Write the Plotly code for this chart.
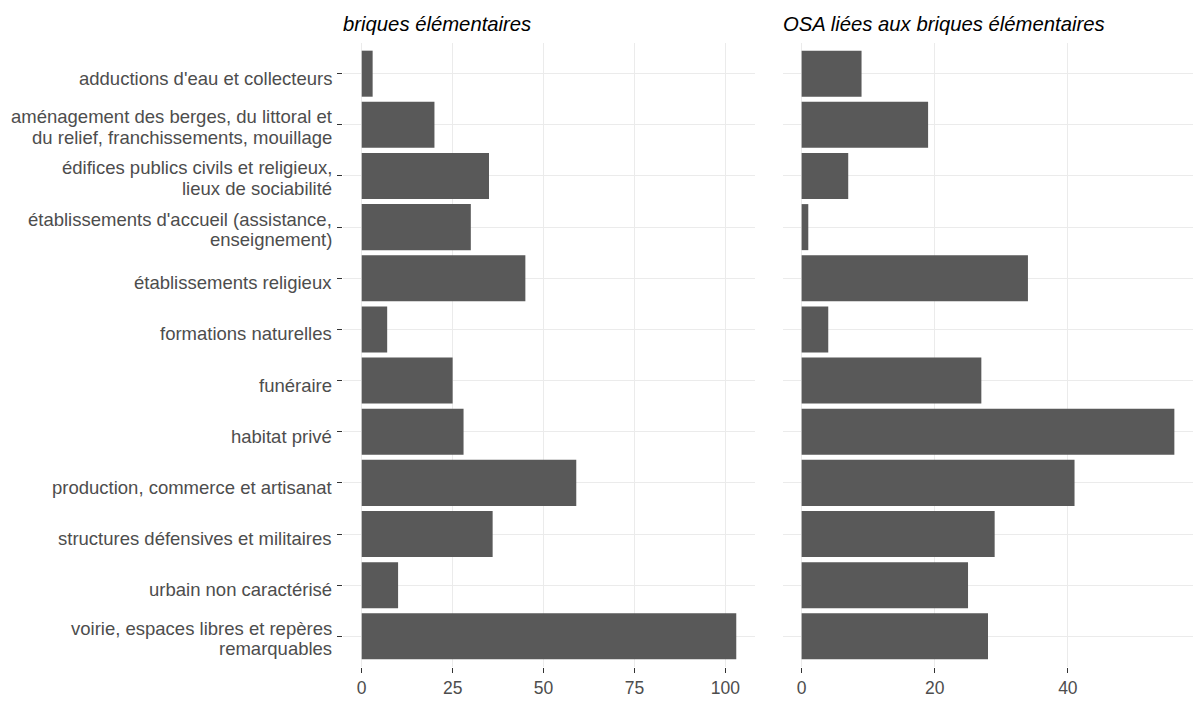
import plotly.graph_objects as go

categories = [
    "adductions d'eau et collecteurs",
    "aménagement des berges, du littoral et\ndu relief, franchissements, mouillage",
    "édifices publics civils et religieux,\nlieux de sociabilité",
    "établissements d'accueil (assistance,\nenseignement)",
    "établissements religieux",
    "formations naturelles",
    "funéraire",
    "habitat privé",
    "production, commerce et artisanat",
    "structures défensives et militaires",
    "urbain non caractérisé",
    "voirie, espaces libres et repères\nremarquables",
]
briques = [3, 20, 35, 30, 45, 7, 25, 28, 59, 36, 10, 103]
osa = [9, 19, 7, 1, 34, 4, 27, 56, 41, 29, 25, 28]
titles = ["briques élémentaires", "OSA liées aux briques élémentaires"]
ticks_left = [0, 25, 50, 75, 100]
ticks_right = [0, 20, 40]

W, H = 1193, 701
ml, mr, mt, mb = 343, 0, 43, 34
pw = W - ml - mr
x1_end = (755 - ml) / pw
x2_start = (783 - ml) / pw

bar_style = dict(marker=dict(color="#595959", line=dict(width=0)), width=0.9,
                 orientation="h", showlegend=False)

fig = go.Figure()
fig.add_trace(go.Bar(x=briques, y=categories, xaxis="x", yaxis="y", **bar_style))
fig.add_trace(go.Bar(x=osa, y=categories, xaxis="x2", yaxis="y2", **bar_style))

font_family = "Liberation Sans, Arial, sans-serif"
tick_size = 18.5
tick_font = dict(family=font_family, size=tick_size, color="#4D4D4D")
xtick_font = dict(family=font_family, size=17.5, color="#4D4D4D")
grid = "#EBEBEB"

axis_common = dict(showgrid=True, gridcolor=grid, gridwidth=1, zeroline=False, showline=False)
bmax = max(briques)
omax = max(osa)
fig.update_layout(
    width=W, height=H,
    margin=dict(l=ml, r=mr, t=mt, b=mb, pad=0),
    plot_bgcolor="white", paper_bgcolor="white",
    xaxis=dict(domain=[0, x1_end], range=[-0.05 * bmax, 1.05 * bmax], tickmode="array",
               tickvals=ticks_left, ticktext=[str(t) for t in ticks_left], anchor="y",
               ticks="outside", ticklen=5, tickcolor="#333333", tickwidth=1,
               tickfont=xtick_font, **axis_common),
    xaxis2=dict(domain=[x2_start, 1], range=[-0.05 * omax, 1.05 * omax], tickmode="array",
                tickvals=ticks_right, ticktext=[str(t) for t in ticks_right], anchor="y2",
                ticks="outside", ticklen=5, tickcolor="#333333", tickwidth=1,
                tickfont=xtick_font, **axis_common),
    yaxis=dict(domain=[0, 1], anchor="x", type="category", categoryorder="array",
               categoryarray=categories, range=[len(categories) - 0.4, -0.6],
               ticks="outside", ticklen=5, tickcolor="#333333", tickwidth=1,
               showticklabels=False, **axis_common),
    yaxis2=dict(domain=[0, 1], anchor="x2", type="category", categoryorder="array",
                categoryarray=categories, range=[len(categories) - 0.4, -0.6],
                showticklabels=False, ticks="", **axis_common),
)

# category labels (ggplot-like tight line spacing)
for cat in categories:
    lines = cat.split("\n")
    if len(lines) == 1:
        shifts = [-4.5]
    else:
        shifts = [8, -12.5]
    for ln, sh in zip(lines, shifts):
        fig.add_annotation(text=ln, x=0, y=cat, xref="paper", yref="y",
                           xanchor="right", yanchor="middle", xshift=-9, yshift=sh,
                           showarrow=False, font=tick_font)

ph = H - mt - mb
ytitle = 1 + (mt - 24) / ph
for xs, t in zip([0, x2_start], titles):
    fig.add_annotation(text=f"<i>{t}</i>", x=xs, y=ytitle, xref="paper", yref="paper",
                       xanchor="left", yanchor="middle", showarrow=False, xshift=-2,
                       font=dict(family=font_family, size=20.3, color="#000000"))

fig.write_html("out.html", config={"displayModeBar": False},
               post_script="document.body.style.margin='0';")
